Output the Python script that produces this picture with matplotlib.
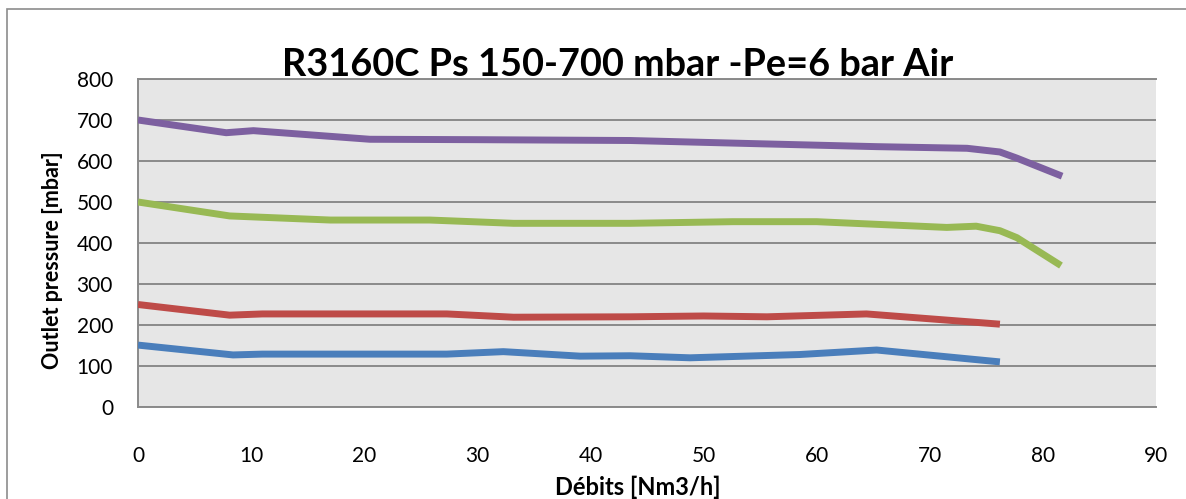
import matplotlib
matplotlib.use("Agg")
import matplotlib.pyplot as plt
from matplotlib.patches import Rectangle

plt.rcParams['font.family'] = ['Lato', 'DejaVu Sans']

# Data
x_blue = [0, 8.4, 11, 27.3, 32.3, 39.1, 43.5, 48.8, 58.5, 65.3, 76.2]
y_blue = [151, 127, 129, 129, 135, 124, 125, 120, 128, 139, 110]

x_red = [0, 8.1, 11, 27.3, 33.2, 43.5, 50, 55.6, 64.4, 76.2]
y_red = [250, 224, 227, 227, 219, 220, 222, 220, 227, 202]

x_green = [0, 8.1, 17, 25.8, 33.2, 43.5, 52.6, 60, 71.5, 74.1, 76.2, 77.7, 81.6]
y_green = [500, 466, 456, 456, 448, 448, 452, 452, 438, 441, 430, 413, 345]

x_purple = [0, 7.8, 10.2, 20.5, 30, 43.5, 55, 65.3, 73.3, 76.2, 77.7, 81.7]
y_purple = [700, 669, 674, 653, 652, 650, 642, 635, 631, 622, 607, 563]

series = [
    (x_blue, y_blue, '#4a7ebb'),
    (x_red, y_red, '#be4b48'),
    (x_green, y_green, '#98b954'),
    (x_purple, y_purple, '#7d60a0'),
]

xticks = [0, 10, 20, 30, 40, 50, 60, 70, 80, 90]
yticks = [0, 100, 200, 300, 400, 500, 600, 700, 800]

title = "R3160C Ps 150-700 mbar -Pe=6 bar Air"
xlabel = "Débits [Nm3/h]"
ylabel = "Outlet pressure [mbar]"

W, H = 1186, 499
fig = plt.figure(figsize=(W / 100, H / 100), dpi=100)
fig.patch.set_facecolor('white')

# outer chart frame
fig.patches.append(Rectangle((7 / W, -0.1), 1.2, 1 - 9 / H + 0.1,
                             transform=fig.transFigure, fill=False,
                             edgecolor='#8c8c8c', linewidth=1.2))

ax = fig.add_axes([138 / W, 1 - 407 / H, (1156 - 138) / W, (407 - 79) / H])
ax.set_facecolor('#e6e6e6')

for xs, ys, c in series:
    ax.plot(xs, ys, color=c, linewidth=5, solid_joinstyle='round',
            solid_capstyle='butt', zorder=3)

ax.set_xlim(0, 90)
ax.set_ylim(0, 800)
ax.set_xticks(xticks)
ax.set_yticks(yticks)
ax.yaxis.grid(True, color='#8a8a8a', linewidth=1.4, zorder=1)
ax.set_axisbelow(True)
ax.tick_params(axis='both', length=0, labelsize=15, colors='black')
ax.tick_params(axis='x', pad=28)
ax.tick_params(axis='y', pad=18)

ax.spines['right'].set_visible(False)
for s in ['left', 'bottom', 'top']:
    ax.spines[s].set_color('#8a8a8a')
    ax.spines[s].set_linewidth(1.4)

fig.text(618 / W, 1 - 76 / H, title, ha='center', va='baseline',
         fontsize=27.3, fontweight='bold')
fig.text(638 / W, 1 - 487 / H, xlabel, ha='center', va='center',
         fontsize=17, fontweight='bold')
fig.text(53 / W, 1 - 260 / H, ylabel, ha='center', va='center',
         fontsize=15.5, fontweight='bold', rotation=90)

fig.savefig('out.png', dpi=100)
